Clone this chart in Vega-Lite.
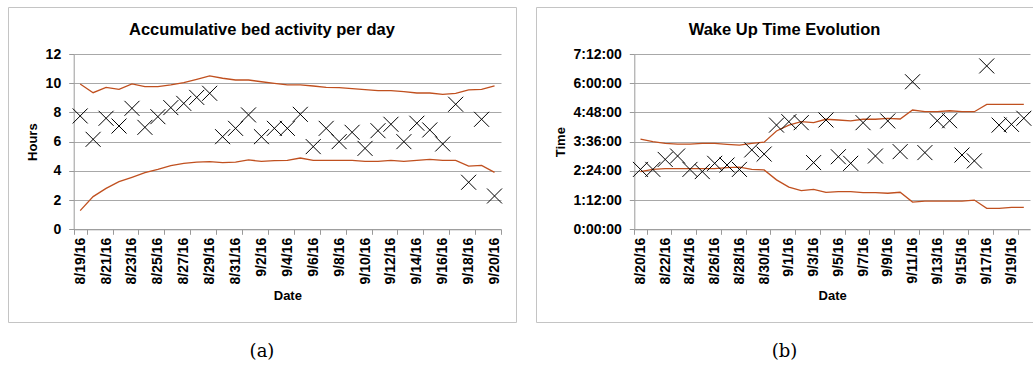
{
  "$schema": "https://vega.github.io/schema/vega-lite/v6.json",
  "padding": {"left": 0, "top": 6, "right": 0, "bottom": 0},
  "autosize": {"type": "pad"},
  "background": "#ffffff",
  "datasets": {
    "bed": [
      {"date": "8/19/16", "hours": 7.76, "upper": 9.95, "lower": 1.28},
      {"date": "8/20/16", "hours": 6.16, "upper": 9.35, "lower": 2.24},
      {"date": "8/21/16", "hours": 7.6, "upper": 9.72, "lower": 2.8},
      {"date": "8/22/16", "hours": 7.07, "upper": 9.58, "lower": 3.26},
      {"date": "8/23/16", "hours": 8.28, "upper": 9.95, "lower": 3.56},
      {"date": "8/24/16", "hours": 6.98, "upper": 9.76, "lower": 3.88},
      {"date": "8/25/16", "hours": 7.71, "upper": 9.76, "lower": 4.1},
      {"date": "8/26/16", "hours": 8.33, "upper": 9.88, "lower": 4.36},
      {"date": "8/27/16", "hours": 8.62, "upper": 10.04, "lower": 4.52},
      {"date": "8/28/16", "hours": 9.03, "upper": 10.27, "lower": 4.6},
      {"date": "8/29/16", "hours": 9.31, "upper": 10.5, "lower": 4.63},
      {"date": "8/30/16", "hours": 6.34, "upper": 10.34, "lower": 4.56},
      {"date": "8/31/16", "hours": 6.91, "upper": 10.22, "lower": 4.6},
      {"date": "9/1/16", "hours": 7.83, "upper": 10.22, "lower": 4.75},
      {"date": "9/2/16", "hours": 6.34, "upper": 10.1, "lower": 4.65},
      {"date": "9/3/16", "hours": 6.91, "upper": 9.99, "lower": 4.7},
      {"date": "9/4/16", "hours": 6.91, "upper": 9.88, "lower": 4.72},
      {"date": "9/5/16", "hours": 7.87, "upper": 9.88, "lower": 4.88},
      {"date": "9/6/16", "hours": 5.66, "upper": 9.81, "lower": 4.72},
      {"date": "9/7/16", "hours": 6.91, "upper": 9.72, "lower": 4.72},
      {"date": "9/8/16", "hours": 6.0, "upper": 9.7, "lower": 4.72},
      {"date": "9/9/16", "hours": 6.64, "upper": 9.63, "lower": 4.72},
      {"date": "9/10/16", "hours": 5.54, "upper": 9.56, "lower": 4.65},
      {"date": "9/11/16", "hours": 6.75, "upper": 9.49, "lower": 4.65},
      {"date": "9/12/16", "hours": 7.19, "upper": 9.49, "lower": 4.72},
      {"date": "9/13/16", "hours": 6.0, "upper": 9.42, "lower": 4.65},
      {"date": "9/14/16", "hours": 7.26, "upper": 9.33, "lower": 4.72},
      {"date": "9/15/16", "hours": 6.8, "upper": 9.33, "lower": 4.79},
      {"date": "9/16/16", "hours": 5.84, "upper": 9.24, "lower": 4.72},
      {"date": "9/17/16", "hours": 8.56, "upper": 9.31, "lower": 4.72},
      {"date": "9/18/16", "hours": 3.22, "upper": 9.54, "lower": 4.33},
      {"date": "9/19/16", "hours": 7.53, "upper": 9.58, "lower": 4.38},
      {"date": "9/20/16", "hours": 2.28, "upper": 9.81, "lower": 3.9}
    ],
    "wake": [
      {"date": "8/20/16", "time": 2.46, "upper": 3.7, "lower": 2.37},
      {"date": "8/21/16", "time": 2.46, "upper": 3.6, "lower": 2.46},
      {"date": "8/22/16", "time": 2.87, "upper": 3.53, "lower": 2.49},
      {"date": "8/23/16", "time": 3.01, "upper": 3.5, "lower": 2.49},
      {"date": "8/24/16", "time": 2.46, "upper": 3.5, "lower": 2.49},
      {"date": "8/25/16", "time": 2.37, "upper": 3.53, "lower": 2.49},
      {"date": "8/26/16", "time": 2.71, "upper": 3.53, "lower": 2.49},
      {"date": "8/27/16", "time": 2.64, "upper": 3.49, "lower": 2.53},
      {"date": "8/28/16", "time": 2.46, "upper": 3.46, "lower": 2.55},
      {"date": "8/29/16", "time": 3.26, "upper": 3.53, "lower": 2.46},
      {"date": "8/30/16", "time": 3.09, "upper": 3.58, "lower": 2.44},
      {"date": "8/31/16", "time": 4.28, "upper": 4.04, "lower": 2.03},
      {"date": "9/1/16", "time": 4.42, "upper": 4.28, "lower": 1.73},
      {"date": "9/2/16", "time": 4.38, "upper": 4.42, "lower": 1.59},
      {"date": "9/3/16", "time": 2.74, "upper": 4.38, "lower": 1.64},
      {"date": "9/4/16", "time": 4.49, "upper": 4.52, "lower": 1.52},
      {"date": "9/5/16", "time": 2.98, "upper": 4.49, "lower": 1.55},
      {"date": "9/6/16", "time": 2.71, "upper": 4.45, "lower": 1.55},
      {"date": "9/7/16", "time": 4.38, "upper": 4.52, "lower": 1.51},
      {"date": "9/8/16", "time": 3.01, "upper": 4.52, "lower": 1.51},
      {"date": "9/9/16", "time": 4.45, "upper": 4.56, "lower": 1.48},
      {"date": "9/10/16", "time": 3.19, "upper": 4.53, "lower": 1.52},
      {"date": "9/11/16", "time": 6.06, "upper": 4.9, "lower": 1.12},
      {"date": "9/12/16", "time": 3.15, "upper": 4.83, "lower": 1.16},
      {"date": "9/13/16", "time": 4.46, "upper": 4.83, "lower": 1.16},
      {"date": "9/14/16", "time": 4.46, "upper": 4.87, "lower": 1.16},
      {"date": "9/15/16", "time": 3.05, "upper": 4.83, "lower": 1.16},
      {"date": "9/16/16", "time": 2.81, "upper": 4.83, "lower": 1.2},
      {"date": "9/17/16", "time": 6.71, "upper": 5.13, "lower": 0.86},
      {"date": "9/18/16", "time": 4.28, "upper": 5.13, "lower": 0.86},
      {"date": "9/19/16", "time": 4.31, "upper": 5.13, "lower": 0.9},
      {"date": "9/20/16", "time": 4.56, "upper": 5.13, "lower": 0.9}
    ],
    "capA": [{"c": "(a)"}],
    "capB": [{"c": "(b)"}]
  },
  "vconcat": [
    {
      "hconcat": [
        {
          "width": 508,
          "height": 315,
          "title": {"text": "Accumulative bed activity per day", "offset": -31},
          "data": {"name": "bed"},
          "encoding": {
            "x": {
              "field": "date", "type": "ordinal", "sort": null,
              "scale": {"type": "band", "range": [65.7, 493], "paddingInner": 0, "paddingOuter": 0},
              "axis": {
                "title": "Date", "offset": -92.7, "labelAngle": -90, "labelPadding": 3, "titlePadding": 5, "tickBand": "extent", "grid": false,
                "values": ["8/19/16","8/21/16","8/23/16","8/25/16","8/27/16","8/29/16","8/31/16","9/2/16","9/4/16","9/6/16","9/8/16","9/10/16","9/12/16","9/14/16","9/16/16","9/18/16","9/20/16"]
              }
            }
          },
          "layer": [
            {
              "transform": [{"fold": ["upper", "lower"], "as": ["band", "val"]}],
              "mark": {"type": "line", "color": "#c0501f", "strokeWidth": 1.3},
              "encoding": {
                "detail": {"field": "band", "type": "nominal"},
                "y": {"field": "val", "type": "quantitative", "scale": {"domain": [0, 12], "range": [222.3, 47], "nice": false},
                  "axis": {"title": "Hours", "offset": -65.7, "values": [0,2,4,6,8,10,12], "labelPadding": 8, "titlePadding": 6, "grid": true}}
              }
            },
            {
              "mark": {"type": "point", "shape": "M-1,-1L1,1M-1,1L1,-1", "size": 225, "filled": false, "stroke": "#000000", "strokeWidth": 1, "opacity": 1},
              "encoding": {
                "y": {"field": "hours", "type": "quantitative", "scale": {"domain": [0, 12], "range": [222.3, 47], "nice": false},
                  "axis": {"title": "Hours", "offset": -65.7, "values": [0,2,4,6,8,10,12], "labelPadding": 8, "titlePadding": 6, "grid": true}}
              }
            }
          ]
        },
        {
          "width": 497,
          "height": 315,
          "title": {"text": "Wake Up Time Evolution", "offset": -31},
          "data": {"name": "wake"},
          "encoding": {
            "x": {
              "field": "date", "type": "ordinal", "sort": null,
              "scale": {"type": "band", "range": [98.3, 494], "paddingInner": 0, "paddingOuter": 0},
              "axis": {
                "title": "Date", "offset": -92.7, "labelAngle": -90, "labelPadding": 3, "titlePadding": 5, "tickBand": "extent", "grid": false,
                "values": ["8/20/16","8/22/16","8/24/16","8/26/16","8/28/16","8/30/16","9/1/16","9/3/16","9/5/16","9/7/16","9/9/16","9/11/16","9/13/16","9/15/16","9/17/16","9/19/16"]
              }
            }
          },
          "layer": [
            {
              "transform": [{"fold": ["upper", "lower"], "as": ["band", "val"]}],
              "mark": {"type": "line", "color": "#c0501f", "strokeWidth": 1.3},
              "encoding": {
                "detail": {"field": "band", "type": "nominal"},
                "y": {"field": "val", "type": "quantitative", "scale": {"domain": [0, 7.2], "range": [222.3, 47], "nice": false},
                  "axis": {"title": "Time", "offset": -98.3, "values": [0,1.2,2.4,3.6,4.8,6,7.2], "labelPadding": 8, "titlePadding": 6, "grid": true,
                    "labelExpr": "floor(round(datum.value*60)/60) + ':' + (round(datum.value*60)%60 < 10 ? '0' : '') + (round(datum.value*60)%60) + ':00'"}}
              }
            },
            {
              "mark": {"type": "point", "shape": "M-1,-1L1,1M-1,1L1,-1", "size": 225, "filled": false, "stroke": "#000000", "strokeWidth": 1, "opacity": 1},
              "encoding": {
                "y": {"field": "time", "type": "quantitative", "scale": {"domain": [0, 7.2], "range": [222.3, 47], "nice": false},
                  "axis": {"title": "Time", "offset": -98.3, "values": [0,1.2,2.4,3.6,4.8,6,7.2], "labelPadding": 8, "titlePadding": 6, "grid": true,
                    "labelExpr": "floor(round(datum.value*60)/60) + ':' + (round(datum.value*60)%60 < 10 ? '0' : '') + (round(datum.value*60)%60) + ':00'"}}
              }
            }
          ]
        }
      ],
      "spacing": 20,
      "bounds": "flush"
    },
    {
      "hconcat": [
        {
          "width": 508, "height": 40,
          "view": {"stroke": null},
          "data": {"name": "capA"},
          "mark": {"type": "text", "font": "DejaVu Serif", "fontSize": 18, "color": "#000000"},
          "encoding": {"text": {"field": "c", "type": "nominal"}}
        },
        {
          "width": 497, "height": 40,
          "view": {"stroke": null},
          "data": {"name": "capB"},
          "mark": {"type": "text", "font": "DejaVu Serif", "fontSize": 18, "color": "#000000"},
          "encoding": {"text": {"field": "c", "type": "nominal"}}
        }
      ],
      "spacing": 20,
      "bounds": "flush"
    }
  ],
  "spacing": 9,
  "bounds": "full",
  "config": {
    "font": "Liberation Sans",
    "view": {"stroke": "#c4c4c4", "strokeWidth": 1},
    "axis": {
      "labelFont": "Liberation Sans", "labelFontWeight": "bold", "labelFontSize": 14, "labelColor": "#000000",
      "titleFont": "Liberation Sans", "titleFontWeight": "bold", "titleFontSize": 13, "titleColor": "#000000",
      "domainColor": "#9a9a9a", "tickColor": "#9a9a9a", "gridColor": "#a8a8a8", "tickSize": 5, "domainWidth": 1, "gridWidth": 1
    },
    "title": {"font": "Liberation Sans", "fontSize": 16.5, "fontWeight": "bold", "color": "#000000", "anchor": "middle"}
  }
}
